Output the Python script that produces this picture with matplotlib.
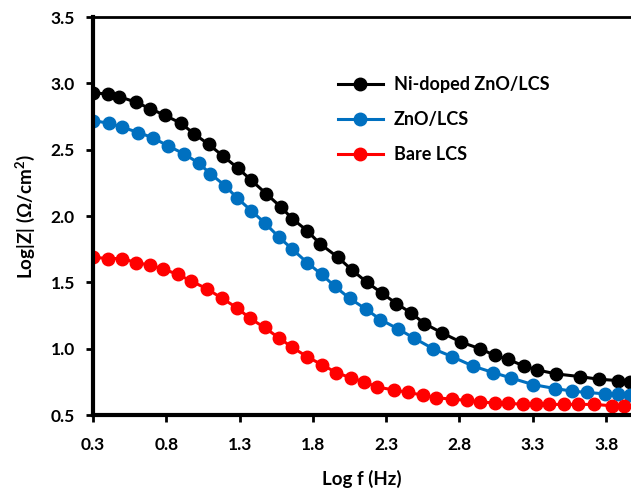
import matplotlib
matplotlib.use("Agg")
import matplotlib.pyplot as plt
import numpy as np

plt.rcParams['font.family'] = ['Lato', 'DejaVu Sans']
plt.rcParams['font.weight'] = 'bold'
plt.rcParams['mathtext.fontset'] = 'custom'
plt.rcParams['mathtext.bf'] = 'Lato:bold'
plt.rcParams['mathtext.rm'] = 'Lato:bold'

# Log f (Hz) and Log|Z|
x_ni = [0.30, 0.40, 0.48, 0.59, 0.69, 0.79, 0.90, 0.99, 1.09, 1.19, 1.29, 1.38,
        1.48, 1.58, 1.66, 1.76, 1.85, 1.97, 2.07, 2.17, 2.27, 2.37, 2.47, 2.56,
        2.68, 2.81, 2.94, 3.04, 3.13, 3.24, 3.33, 3.46, 3.62, 3.75, 3.88, 3.96]
y_ni = [2.93, 2.92, 2.90, 2.86, 2.81, 2.76, 2.70, 2.62, 2.54, 2.45, 2.36, 2.27,
        2.17, 2.07, 1.98, 1.89, 1.79, 1.69, 1.59, 1.50, 1.42, 1.34, 1.27, 1.19,
        1.12, 1.05, 1.00, 0.95, 0.92, 0.87, 0.84, 0.81, 0.79, 0.77, 0.76, 0.75]

x_zno = [0.30, 0.41, 0.50, 0.61, 0.71, 0.81, 0.92, 1.02, 1.10, 1.20, 1.28, 1.38,
         1.47, 1.57, 1.66, 1.76, 1.86, 1.95, 2.05, 2.16, 2.26, 2.38, 2.49, 2.62,
         2.75, 2.89, 3.03, 3.15, 3.30, 3.45, 3.57, 3.67, 3.79, 3.88, 3.96]
y_zno = [2.72, 2.70, 2.67, 2.63, 2.59, 2.53, 2.47, 2.40, 2.32, 2.23, 2.14, 2.04,
         1.95, 1.84, 1.75, 1.65, 1.56, 1.47, 1.38, 1.30, 1.22, 1.15, 1.08, 1.00,
         0.94, 0.87, 0.82, 0.78, 0.73, 0.70, 0.68, 0.67, 0.66, 0.66, 0.65]

x_bare = [0.30, 0.40, 0.50, 0.59, 0.69, 0.78, 0.88, 0.97, 1.08, 1.18, 1.28, 1.37,
          1.47, 1.57, 1.66, 1.76, 1.86, 1.96, 2.06, 2.15, 2.24, 2.35, 2.45, 2.55,
          2.64, 2.75, 2.85, 2.94, 3.04, 3.13, 3.23, 3.32, 3.41, 3.51, 3.61, 3.72,
          3.84, 3.92]
y_bare = [1.69, 1.68, 1.68, 1.65, 1.63, 1.60, 1.56, 1.51, 1.45, 1.38, 1.31, 1.23,
          1.16, 1.08, 1.01, 0.94, 0.88, 0.82, 0.78, 0.75, 0.71, 0.69, 0.67, 0.65,
          0.63, 0.62, 0.61, 0.60, 0.59, 0.59, 0.58, 0.58, 0.58, 0.58, 0.58, 0.58,
          0.57, 0.57]

labels = ['Ni-doped ZnO/LCS', 'ZnO/LCS', 'Bare LCS']
colors = ['#000000', '#0070C0', '#FF0000']
xticks = [0.3, 0.8, 1.3, 1.8, 2.3, 2.8, 3.3, 3.8]
yticks = [0.5, 1.0, 1.5, 2.0, 2.5, 3.0, 3.5]

fig = plt.figure(figsize=(6.31, 4.90), dpi=100)
ax = fig.add_axes([0.1474, 0.153, 0.8526, 0.812])

for xs, ys, lab, c in zip([x_ni, x_zno, x_bare], [y_ni, y_zno, y_bare], labels, colors):
    ax.plot(xs, ys, '-o', color=c, lw=2.2, markersize=9, label=lab)

ax.set_xlim(0.3, 3.97)
ax.set_ylim(0.5, 3.5)
ax.set_xticks(xticks)
ax.set_yticks(yticks)
ax.set_xticklabels([f'{t:.1f}' for t in xticks])
ax.set_yticklabels([f'{t:.1f}' for t in yticks])
ax.tick_params(direction='out', length=5, width=2, labelsize=12.5)
ax.tick_params(axis='x', pad=11)
ax.tick_params(axis='y', pad=8)
for t in ax.get_xticklabels() + ax.get_yticklabels():
    t.set_fontweight('bold')

ax.spines['right'].set_visible(False)
ax.spines['left'].set_linewidth(3)
ax.spines['bottom'].set_linewidth(3)
ax.spines['top'].set_linewidth(2)

ax.set_xlabel('Log f (Hz)', fontsize=13.5, fontweight='bold', labelpad=12)
ax.set_ylabel(r'Log|Z| (Ω/cm$^{\mathbf{2}}$)', fontsize=13.5, fontweight='bold', labelpad=10)

ax.legend(loc='upper left', bbox_to_anchor=(0.455, 0.852), frameon=False,
          borderaxespad=0, borderpad=0,
          prop={'size': 13, 'weight': 'bold'}, handlelength=2.5,
          handletextpad=0.6, labelspacing=1.0)

fig.savefig('out.png', dpi=100)
